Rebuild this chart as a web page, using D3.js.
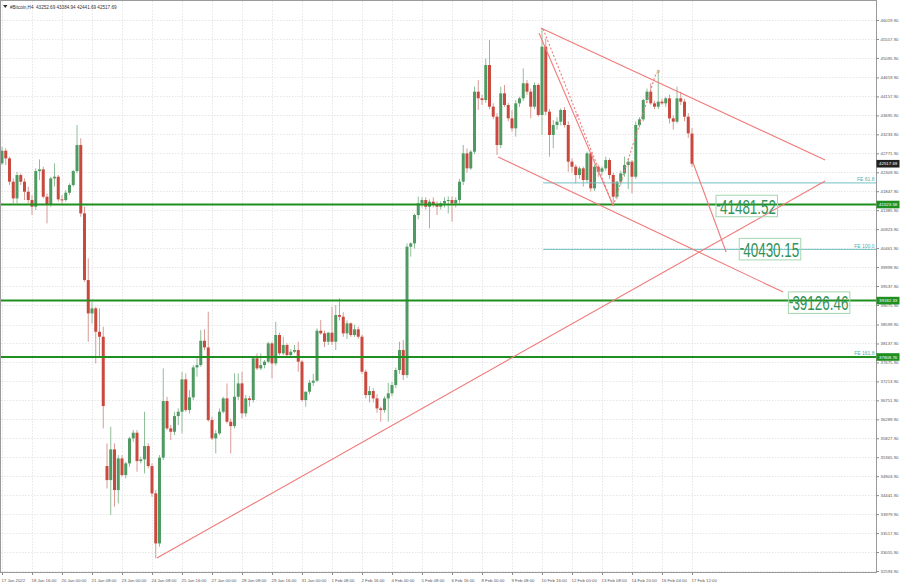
<!DOCTYPE html>
<html><head><meta charset="utf-8">
<script src="https://cdnjs.cloudflare.com/ajax/libs/d3/7.8.5/d3.min.js"></script>
<style>body{margin:0;background:#fff}svg{display:block}</style>
</head><body><svg id="c" width="900" height="585"></svg>
<script>
// ---------- DATA ----------
const title = "#Bitcoin,H4  43252.69 43384.94 42441.69 42517.69";
const opens = [42526,42835,42648,42080,41673,42242,42080,41836,41633,41470,42339,42380,41714,41527,42161,42201,41649,41633,41811,41998,
42339,42973,41308,39683,38871,38993,38424,38302,35151,34809,35557,34566,35337,34931,35216,35825,35963,35272,35313,35638,
35151,34485,33266,35354,36735,36069,35987,36369,36475,37263,36515,36824,37555,37612,38205,38042,36272,35825,35947,36475,
36800,36231,36125,36840,37165,36435,36800,36760,37775,37531,37612,37694,38140,37653,38344,37897,38100,37856,37937,37978,
37694,36760,36963,37182,37231,38449,38384,38181,38400,38181,38831,38790,38384,38628,38344,38482,38303,37450,36881,36979,
36800,36556,36516,36800,36922,37125,37491,37978,37369,40496,40577,41268,41552,41633,41471,41593,41511,41471,41552,41609,
41633,41552,41633,42080,42771,42405,42811,44273,44111,44070,44923,43908,43664,42974,44233,43949,43624,43380,43989,44111,
44477,44274,43908,44436,43705,45370,43786,43218,43461,43542,43827,43461,42568,42446,42243,42405,42121,42771,41918,42446,
42324,42405,42608,42243,41715,42080,42283,42486,42568,42202,43461,43599,44070,44274,43989,43908,44030,43989,44111,43624,
43542,44111,44030,43664,43252.69];
const highs = [42932,42892,42689,42161,42323,42283,42161,41958,41755,42404,42624,42445,41795,42201,42526,42242,41755,41876,42039,42364,
43460,43136,41470,40211,39155,39033,38993,38546,35703,36109,35703,35419,35419,35256,35865,36028,36028,35378,36475,35703,
35216,34566,35419,37531,36840,36150,36475,36556,37449,37409,37003,37612,37815,38465,38481,38912,36353,36028,36556,36840,
37165,36312,37409,37409,37450,36881,36857,37800,37897,37897,37734,38181,38181,38668,38400,38303,38140,38000,38100,38181,
37734,36963,37250,37400,38506,38709,38450,38420,39034,39075,39237,38900,38700,38650,38600,38550,38350,37500,37100,37050,
36900,36600,36850,37180,37200,37550,38181,38222,40577,40600,41300,41715,41700,41700,41650,41700,41600,41600,41700,41720,
41720,41700,42150,42974,42892,42850,44400,44558,44200,45086,45533,43989,43750,44395,44436,44000,43827,44070,44150,44842,
44558,44350,44500,44480,45825,45573,43850,43583,43650,43867,43900,43550,42650,42500,42450,42450,42811,42800,42500,42500,
42450,42690,42650,42300,42100,42350,42690,42650,42608,43550,43650,44100,44350,44477,44050,44802,44100,44150,44200,43700,
44395,44274,44100,43750,43384.94];
const lows = [42486,42486,41998,41552,41552,41998,41633,41552,41267,41389,42120,41673,41064,41470,41958,41592,41552,41592,41755,41958,
42283,41227,39643,38181,38627,37653,37815,36069,34606,33957,34160,34241,34891,34850,35134,35744,35013,35216,34972,35094,
34403,32901,33185,35297,36028,35784,35906,36150,35947,36475,36434,36759,37328,37571,37977,36231,35784,35459,35906,36434,
36190,35459,36069,36759,36313,36353,36600,36700,37491,37491,37531,37653,37288,37600,37850,37856,37800,37800,37900,37450,
36719,36597,36900,37100,37200,38350,38050,38100,38100,37978,38700,38300,38250,38300,38300,38250,37400,36800,36700,36700,
36450,36232,36450,36232,36850,37050,37400,37247,37300,40252,40450,41162,41450,41400,40943,41450,41268,41400,41450,41308,
41105,41450,41550,42000,42300,42364,42750,43827,43950,44000,43850,43600,42730,42900,43900,43550,43300,43177,43900,44050,
44200,43624,43850,43664,43218,43700,42690,42893,43350,43450,43400,42324,42300,42040,42150,41958,42050,41837,41850,42200,
42250,42350,42150,41512,41650,42000,42200,41900,41796,42150,43400,43550,44000,43950,43850,43850,43950,43900,43500,43350,
43500,43950,43550,43150,42441.69];
const closes = [42835,42648,42080,41673,42242,42080,41836,41633,41470,42339,42380,41714,41527,42161,42201,41649,41633,41811,41998,42339,
42973,41308,39683,38871,38993,38424,38302,36613,34809,35557,34566,35337,34931,35216,35825,35963,35272,35313,35638,35151,
34485,33266,35354,36735,36069,35987,36369,36475,37263,36515,36824,37555,37612,38205,38042,36272,35825,35947,36475,36800,
36231,36125,36840,37165,36435,36800,36760,37775,37531,37612,37694,38140,37653,38344,37897,38100,37856,37937,37978,37694,
36760,36963,37182,37231,38449,38384,38181,38400,38181,38831,38790,38384,38628,38344,38482,38303,37450,36881,36979,36800,
36556,36516,36800,36922,37125,37491,37978,37369,40496,40577,41268,41552,41633,41471,41593,41511,41471,41552,41609,41633,
41552,41633,42080,42771,42405,42811,44273,44111,44070,44923,43908,43664,42974,44233,43949,43624,43380,43989,44111,44477,
44274,43908,44436,43705,45370,43786,43218,43461,43542,43827,43461,42568,42446,42243,42405,42121,42771,41918,42446,42324,
42405,42608,42243,41715,42080,42283,42486,42568,42202,43461,43599,44070,44274,43989,43908,44030,43989,44111,43624,43542,
44111,44030,43664,43258,42517.69];
const timeLabels = ["17 Jan 2022","18 Jan 16:00","20 Jan 00:00","21 Jan 08:00","23 Jan 00:00","24 Jan 08:00","25 Jan 16:00",
"27 Jan 00:00","28 Jan 08:00","29 Jan 16:00","31 Jan 00:00","1 Feb 08:00","2 Feb 16:00","4 Feb 00:00","5 Feb 08:00",
"6 Feb 16:00","8 Feb 00:00","9 Feb 08:00","10 Feb 16:00","12 Feb 00:00","13 Feb 08:00","14 Feb 20:00","16 Feb 04:00","17 Feb 12:00"];
const timeLabelBars = [0,8,16,24,32,40,48,56,64,72,80,88,96,104,112,120,128,136,144,152,160,168,176,184];
const priceTicks = [46019.90,45557.90,45095.90,44619.90,44157.90,43695.90,43233.90,42771.90,42309.90,41847.90,41385.90,
40923.90,40461.90,39999.90,39537.90,39075.90,38599.90,38137.90,37675.90,37213.90,36751.90,36289.90,35827.90,35365.90,
34903.90,34441.90,33979.90,33517.90,33055.90,32593.90];
const hLevels = [41523.58,39182.33,37808.76];
const feRatios = ["61.8","100.0","161.8"];
const feLevels = [42050.45,40430.15,37808.76];
const feStartBar = 144.3;
const lastPrice = 42517.69;
// trend lines: [bar1, price1, bar2, price2, dashed]
const trendLines = [
  [41.3,32909,219.5,42096,false],
  [143.7,45825,219.5,42608,false],
  [132.3,42681,208.3,39391,false],
  [143.2,45703,163.0,41490,false],
  [144.3,45800,163.0,41490,true],
  [163.0,41490,174.4,44720,true],
  [184.3,42535,193.1,40366,false]
];
const pointMarks = [[153.0,43660,"p"],[174.6,44728,"p"]];
const textBoxes = [[190.4,41481.52],[196.6,40430.15],[209.7,39126.46]];

// ---------- CHART ----------
const svg = d3.select("#c");
const W = 876.5, B = 572.5;
const x = d3.scaleLinear().domain([0,184]).range([2,692]);
const y = d3.scaleLinear().domain([32593.9,46019.9]).range([571,20]);
const fmt = d3.format(".2f");
const font = "'Liberation Sans', Arial, sans-serif";

svg.append("defs").append("clipPath").attr("id","plot")
  .append("rect").attr("x",0.5).attr("y",0.5).attr("width",W-0.5).attr("height",B-0.5);

// grid
const grid = svg.append("g").attr("stroke","#dcdcdc").attr("stroke-width",0.7).attr("stroke-dasharray","1.5,1.5");
grid.selectAll("line.h").data(priceTicks).join("line")
  .attr("x1",1).attr("x2",W).attr("y1",d=>Math.round(y(d))+0.5).attr("y2",d=>Math.round(y(d))+0.5);
grid.selectAll("line.v").data(timeLabelBars).join("line")
  .attr("y1",1).attr("y2",B).attr("x1",d=>Math.round(x(d))+0.5).attr("x2",d=>Math.round(x(d))+0.5);

const plot = svg.append("g").attr("clip-path","url(#plot)");

// candles
const bars = d3.range(opens.length);
const up = i => closes[i] >= opens[i];
plot.append("g").selectAll("line").data(bars).join("line")
  .attr("x1",i=>x(i)).attr("x2",i=>x(i))
  .attr("y1",i=>y(highs[i])).attr("y2",i=>y(lows[i]))
  .attr("stroke",i=>up(i)?"#8fbf98":"#d99a94").attr("stroke-width",1);
plot.append("g").selectAll("rect").data(bars).join("rect")
  .attr("x",i=>x(i)-1.5).attr("width",3)
  .attr("y",i=>y(Math.max(opens[i],closes[i])))
  .attr("height",i=>Math.max(1,Math.abs(y(opens[i])-y(closes[i]))))
  .attr("fill",i=>up(i)?"#4f9a62":"#c9493e");

// FE levels
const fe = plot.append("g");
fe.selectAll("line").data(feLevels).join("line")
  .attr("x1",x(feStartBar)).attr("x2",W).attr("y1",d=>y(d)).attr("y2",d=>y(d))
  .attr("stroke","#72c0c4").attr("stroke-width",1);
fe.selectAll("text").data(feLevels).join("text")
  .attr("x",W-2).attr("y",d=>y(d)-1.5).attr("text-anchor","end")
  .attr("font-family",font).attr("font-size",5).attr("fill","#4fb0b0")
  .text((d,i)=>"FE "+feRatios[i]);

// green horizontal levels
plot.append("g").selectAll("line").data(hLevels).join("line")
  .attr("x1",0).attr("x2",W).attr("y1",d=>y(d)).attr("y2",d=>y(d))
  .attr("stroke","#1f8f1f").attr("stroke-width",2);

// trend lines
plot.append("g").selectAll("line").data(trendLines).join("line")
  .attr("x1",d=>x(d[0])).attr("y1",d=>y(d[1])).attr("x2",d=>x(d[2])).attr("y2",d=>y(d[3]))
  .attr("stroke","#f07a7a").attr("stroke-width",1.1)
  .attr("stroke-dasharray",d=>d[4]?"2,2":null);
plot.append("g").selectAll("text").data(pointMarks).join("text")
  .attr("x",d=>x(d[0])).attr("y",d=>y(d[1]))
  .attr("font-family",font).attr("font-size",6).attr("font-style","italic").attr("fill","#f07a7a")
  .text(d=>d[2]);

// text boxes
const tb = plot.append("g").selectAll("g").data(textBoxes).join("g")
  .attr("transform",d=>`translate(${x(d[0])},${y(d[1])})`);
tb.append("rect").attr("x",0).attr("y",-11).attr("width",61.5).attr("height",21.5)
  .attr("fill","none").attr("stroke","#a6d6b0").attr("stroke-width",1);
tb.append("line").attr("x1",1).attr("x2",4.5).attr("y1",-0.5).attr("y2",-0.5)
  .attr("stroke","#3a9a58").attr("stroke-width",1.6);
tb.append("text").attr("x",4).attr("y",7.5)
  .attr("font-family",font).attr("font-size",21).attr("fill","#33925a")
  .attr("textLength",56).attr("lengthAdjust","spacingAndGlyphs")
  .text(d=>fmt(d[1]));

// frame
svg.append("rect").attr("x",0.5).attr("y",0.5).attr("width",W-0.5).attr("height",B-0.5)
  .attr("fill","none").attr("stroke","#9a9a9a").attr("stroke-width",1);

// right price axis
const ya = svg.append("g").attr("transform",`translate(${W},0)`)
  .call(d3.axisRight(y).tickValues(priceTicks).tickSize(2.5).tickPadding(1.5).tickFormat(fmt));
ya.select(".domain").remove();
ya.selectAll("line").attr("stroke","#888");
ya.selectAll("text").attr("font-family",font).attr("font-size",4.3).attr("fill","#555");

// bottom time axis
const xa = svg.append("g").attr("transform",`translate(0,${B})`)
  .call(d3.axisBottom(x).tickValues(timeLabelBars).tickSize(2.5).tickFormat((d,i)=>timeLabels[i]));
xa.select(".domain").remove();
xa.selectAll("line").attr("stroke","#888");
xa.selectAll("text").attr("font-family",font).attr("font-size",4.3).attr("fill","#555")
  .attr("text-anchor","start").attr("dx",-1).attr("y",6);

// right-axis level labels
const lvl = svg.append("g").selectAll("g").data(hLevels).join("g")
  .attr("transform",d=>`translate(${W},${y(d)})`);
lvl.append("rect").attr("x",0).attr("y",-3.8).attr("width",23).attr("height",7.6).attr("fill","#1f8f1f");
lvl.append("text").attr("x",2.5).attr("y",1.6).attr("font-family",font).attr("font-size",4.4)
  .attr("fill","#fff").text(d=>fmt(d));

// current price label
const cp = svg.append("g").attr("transform",`translate(${W},${y(lastPrice)})`);
cp.append("rect").attr("x",0).attr("y",-3.8).attr("width",23).attr("height",7.6).attr("fill","#222");
cp.append("text").attr("x",2.5).attr("y",1.6).attr("font-family",font).attr("font-size",4.4)
  .attr("fill","#fff").text(fmt(lastPrice));

// title
svg.append("path").attr("d","M3,5 L7.5,5 L5.25,8 Z").attr("fill","#333");
svg.append("text").attr("x",10).attr("y",8.8).attr("font-family",font).attr("font-size",4.6)
  .attr("fill","#333").attr("xml:space","preserve").text(title);
</script></body></html>
